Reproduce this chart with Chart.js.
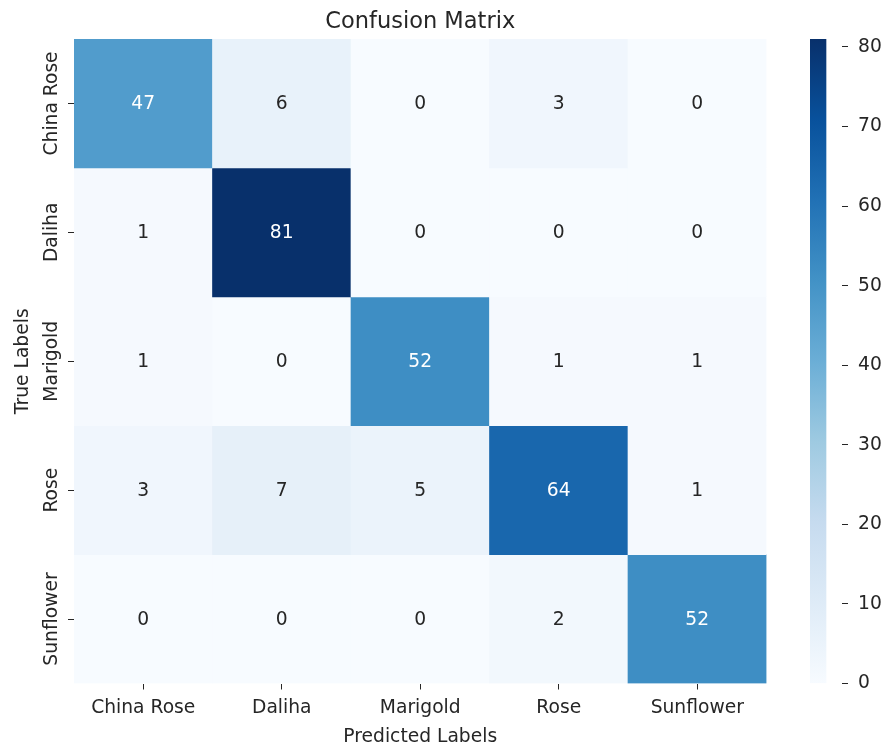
<!DOCTYPE html>
<html>
<head>
<meta charset="utf-8">
<script src="https://cdn.jsdelivr.net/npm/chart.js@4.4.1/dist/chart.umd.min.js"></script>
<style>
  html, body { margin: 0; padding: 0; background: #ffffff; }
  #wrap { position: relative; width: 886px; height: 746px; }
  #heat { position: absolute; left: 0; top: 0; }
  #cbar { position: absolute; left: 810px; top: 0; }
</style>
</head>
<body>
<div id="wrap">
  <canvas id="heat" width="886" height="746"></canvas>
  <canvas id="cbar" width="76" height="746"></canvas>
</div>
<script>
// Class names on both axes
const trueLabels = ['China Rose', 'Daliha', 'Marigold', 'Rose', 'Sunflower'];
const predictedLabels = ['China Rose', 'Daliha', 'Marigold', 'Rose', 'Sunflower'];

// Counts per true class (one row each), columns follow predictedLabels
const chinaRoseRow = [47, 6, 0, 3, 0];
const dalihaRow    = [1, 81, 0, 0, 0];
const marigoldRow  = [1, 0, 52, 1, 1];
const roseRow      = [3, 7, 5, 64, 1];
const sunflowerRow = [0, 0, 0, 2, 52];

const matrixRows = [chinaRoseRow, dalihaRow, marigoldRow, roseRow, sunflowerRow];

// Colour bar tick values
const colorbarTicks = [0, 10, 20, 30, 40, 50, 60, 70, 80];

const vmin = 0;
const vmax = Math.max(...matrixRows.flat());

// "Blues" sequential palette stops
const bluesStops = ['#f7fbff', '#deebf7', '#c6dbef', '#9ecae1', '#6baed6',
                    '#4292c6', '#2171b5', '#08519c', '#08306b'];

function hexToRgb(h) {
  return [parseInt(h.slice(1, 3), 16), parseInt(h.slice(3, 5), 16), parseInt(h.slice(5, 7), 16)];
}
const bluesRgb = bluesStops.map(hexToRgb);

function bluesRgbAt(t) {
  t = Math.min(1, Math.max(0, t));
  const pos = t * (bluesRgb.length - 1);
  const i = Math.min(bluesRgb.length - 2, Math.floor(pos));
  const f = pos - i;
  const a = bluesRgb[i], b = bluesRgb[i + 1];
  return [0, 1, 2].map(k => Math.round(a[k] + (b[k] - a[k]) * f));
}
function bluesAt(t) {
  const c = bluesRgbAt(t);
  return `rgb(${c[0]},${c[1]},${c[2]})`;
}
function luminance(rgb) {
  const lin = rgb.map(v => {
    v /= 255;
    return v <= 0.03928 ? v / 12.92 : Math.pow((v + 0.055) / 1.055, 2.4);
  });
  return 0.2126 * lin[0] + 0.7152 * lin[1] + 0.0722 * lin[2];
}

const FONT = "'DejaVu Sans', 'Liberation Sans', sans-serif";
const TEXT = '#262626';
const LABEL_SIZE = 18.7;
const TITLE_SIZE = 22.5;

// Plot box of the heatmap
const PLOT = { left: 74, top: 39, right: 766.5, bottom: 683.5 };

// One floating-bar dataset per true class; each cell spans [row, row + 1]
const datasets = matrixRows.map((row, r) => ({
  label: trueLabels[r],
  data: row.map(() => [r, r + 1]),
  counts: row,
  backgroundColor: ctx => bluesAt((row[ctx.dataIndex] - vmin) / (vmax - vmin)),
  borderWidth: 0,
  borderSkipped: false,
  grouped: false,
  barPercentage: 1.0,
  categoryPercentage: 1.0
}));

// Cell annotations, row tick labels and titles
const annotate = {
  id: 'annotate',
  afterDatasetsDraw(chart) {
    const ctx = chart.ctx;
    ctx.save();
    ctx.font = `${LABEL_SIZE}px ${FONT}`;
    ctx.textAlign = 'center';
    ctx.textBaseline = 'middle';
    chart.data.datasets.forEach((ds, di) => {
      const meta = chart.getDatasetMeta(di);
      meta.data.forEach((el, i) => {
        const v = ds.counts[i];
        const rgb = bluesRgbAt((v - vmin) / (vmax - vmin));
        ctx.fillStyle = luminance(rgb) > 0.408 ? TEXT : '#ffffff';
        ctx.fillText(String(v), el.x, (el.y + el.base) / 2 + 1);
      });
    });
    ctx.restore();
  },
  afterDraw(chart) {
    const ctx = chart.ctx;
    const area = chart.chartArea;
    const yScale = chart.scales.y;
    ctx.save();
    ctx.fillStyle = TEXT;
    // rotated row labels
    ctx.font = `${LABEL_SIZE}px ${FONT}`;
    ctx.textAlign = 'center';
    ctx.textBaseline = 'alphabetic';
    trueLabels.forEach((lab, r) => {
      const y = yScale.getPixelForValue(r + 0.5);
      ctx.save();
      ctx.translate(57, y);
      ctx.rotate(-Math.PI / 2);
      ctx.fillText(lab, 0, 0);
      ctx.restore();
    });
    // y axis title
    ctx.save();
    ctx.translate(28, (area.top + area.bottom) / 2);
    ctx.rotate(-Math.PI / 2);
    ctx.fillText('True Labels', 0, 0);
    ctx.restore();
    // chart title
    ctx.font = `${TITLE_SIZE}px ${FONT}`;
    ctx.fillText('Confusion Matrix', (area.left + area.right) / 2, 28);
    ctx.restore();
  }
};

new Chart(document.getElementById('heat'), {
  type: 'bar',
  data: { labels: predictedLabels, datasets },
  options: {
    responsive: false,
    animation: false,
    layout: { padding: { top: PLOT.top, right: 886 - PLOT.right, left: 0, bottom: 0 } },
    plugins: { legend: { display: false }, title: { display: false }, tooltip: { enabled: false } },
    scales: {
      x: {
        type: 'category',
        offset: true,
        border: { display: false },
        grid: { drawOnChartArea: false, offset: false, tickLength: 6, color: TEXT, tickWidth: 1 },
        ticks: { color: TEXT, font: { family: FONT, size: LABEL_SIZE }, padding: 7, maxRotation: 0, minRotation: 0 },
        title: { display: true, text: 'Predicted Labels', color: TEXT, font: { family: FONT, size: LABEL_SIZE, lineHeight: 1.0 }, padding: { top: 0, bottom: 0 } },
        afterFit(scale) { scale.height = 746 - PLOT.bottom; }
      },
      y: {
        type: 'linear',
        min: 0,
        max: trueLabels.length,
        reverse: true,
        border: { display: false },
        grid: { drawOnChartArea: false, tickLength: 6, color: TEXT, tickWidth: 1 },
        ticks: { display: false },
        afterBuildTicks(scale) {
          scale.ticks = trueLabels.map((_, r) => ({ value: r + 0.5 }));
        },
        afterFit(scale) { scale.width = PLOT.left; }
      }
    }
  },
  plugins: [annotate]
});

// Colour bar: a single floating bar spanning the value range, filled with the palette
new Chart(document.getElementById('cbar'), {
  type: 'bar',
  data: {
    labels: [''],
    datasets: [{
      data: [[vmin, vmax]],
      borderWidth: 0,
      borderSkipped: false,
      barPercentage: 1.0,
      categoryPercentage: 1.0,
      backgroundColor(ctx) {
        const area = ctx.chart.chartArea;
        if (!area) return bluesStops[4];
        const g = ctx.chart.ctx.createLinearGradient(0, area.bottom, 0, area.top);
        bluesStops.forEach((c, i) => g.addColorStop(i / (bluesStops.length - 1), c));
        return g;
      }
    }]
  },
  options: {
    responsive: false,
    animation: false,
    layout: { padding: { top: PLOT.top, bottom: 746 - PLOT.bottom, left: 0, right: 0 } },
    plugins: { legend: { display: false }, tooltip: { enabled: false } },
    scales: {
      x: { display: false, offset: false },
      y: {
        position: 'right',
        min: vmin,
        max: vmax,
        border: { display: false },
        grid: { drawOnChartArea: false, tickLength: 6, color: TEXT, tickWidth: 1 },
        ticks: { color: TEXT, font: { family: FONT, size: LABEL_SIZE }, padding: 10 },
        afterBuildTicks(scale) {
          scale.ticks = colorbarTicks.map(v => ({ value: v }));
        },
        afterFit(scale) { scale.width = 44; }
      }
    }
  }
});
</script>
</body>
</html>
